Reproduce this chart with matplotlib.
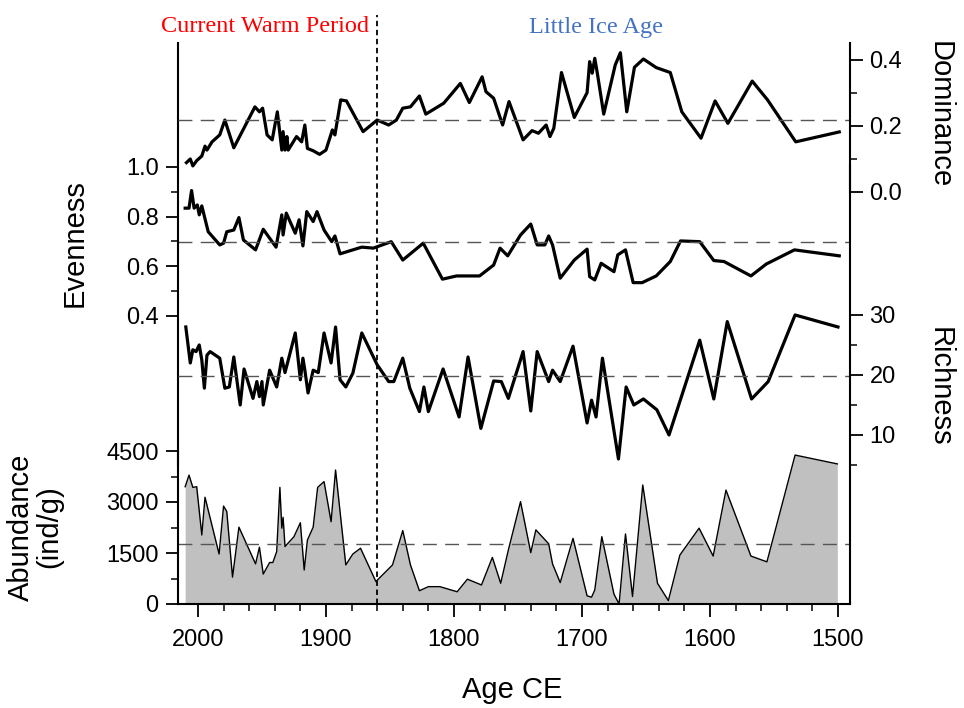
import matplotlib
matplotlib.use('Agg')
import matplotlib.pyplot as plt
from matplotlib.ticker import MultipleLocator, FixedLocator

plt.rcParams['font.family'] = ['Liberation Sans', 'DejaVu Sans']

# dominance (right axis, top)
dom_years = [2009, 2006, 2004, 2001, 1997, 1994.5, 1993, 1989, 1983, 1979,
             1972, 1955.5, 1952, 1949.5, 1946, 1942, 1938, 1934.5, 1933.5, 1932,
             1930.5, 1929.5, 1923, 1919, 1916.5, 1914.5, 1910, 1905, 1900, 1895,
             1893, 1888.5, 1884, 1871, 1860, 1851, 1845, 1840, 1834, 1827,
             1822, 1808, 1795, 1788, 1778, 1775, 1769, 1762, 1757, 1746,
             1739, 1734, 1728, 1725, 1722, 1716, 1706, 1696, 1694, 1692,
             1690, 1688, 1683, 1674, 1670, 1665, 1659, 1652, 1642, 1631,
             1622, 1607, 1596, 1586, 1567, 1555, 1533, 1499]
dom_vals = [0.089, 0.100, 0.079, 0.095, 0.109, 0.139, 0.127, 0.152, 0.173, 0.218,
            0.134, 0.258, 0.243, 0.254, 0.173, 0.158, 0.243, 0.127, 0.183, 0.127,
            0.168, 0.127, 0.168, 0.152, 0.203, 0.132, 0.125, 0.114, 0.127, 0.188,
            0.173, 0.279, 0.276, 0.183, 0.218, 0.203, 0.218, 0.254, 0.258, 0.291,
            0.236, 0.269, 0.329, 0.271, 0.349, 0.304, 0.284, 0.203, 0.274, 0.158,
            0.186, 0.178, 0.203, 0.168, 0.193, 0.362, 0.226, 0.301, 0.395, 0.360,
            0.405, 0.360, 0.236, 0.385, 0.422, 0.243, 0.378, 0.403, 0.377, 0.362,
            0.243, 0.163, 0.276, 0.208, 0.336, 0.279, 0.152, 0.182]

# evenness (left axis)
ev_years = [2010, 2007, 2005, 2003, 2000.5, 1999, 1997, 1992, 1983, 1980,
            1977.5, 1972, 1968, 1964.5, 1955, 1949, 1939, 1934.5, 1933.5, 1931,
            1924, 1921, 1918, 1915, 1910, 1907, 1901.5, 1895.5, 1893, 1889,
            1879, 1872, 1863, 1849, 1840, 1824, 1809, 1798, 1780, 1769,
            1764, 1758, 1748, 1740, 1735, 1729, 1726, 1723, 1717, 1706,
            1696, 1694, 1690, 1685, 1675, 1672, 1666, 1660, 1653, 1642,
            1631, 1623, 1608, 1597, 1589, 1568, 1556, 1534, 1499]
ev_vals = [0.834, 0.834, 0.905, 0.834, 0.847, 0.807, 0.843, 0.739, 0.686, 0.693,
           0.739, 0.746, 0.796, 0.706, 0.666, 0.749, 0.677, 0.807, 0.726, 0.814,
           0.733, 0.787, 0.682, 0.820, 0.780, 0.820, 0.746, 0.699, 0.722, 0.650,
           0.666, 0.677, 0.673, 0.699, 0.625, 0.693, 0.548, 0.561, 0.561, 0.605,
           0.673, 0.642, 0.726, 0.770, 0.686, 0.686, 0.722, 0.686, 0.552, 0.625,
           0.669, 0.558, 0.545, 0.612, 0.578, 0.646, 0.666, 0.534, 0.534, 0.561,
           0.619, 0.702, 0.699, 0.623, 0.619, 0.561, 0.609, 0.666, 0.642]

# richness (right axis)
rich_years = [2009.5, 2006, 2004, 2001.5, 1999, 1997, 1995, 1993, 1990.5, 1983,
              1979, 1975.5, 1972, 1967, 1964, 1957, 1954, 1952, 1950, 1949,
              1944, 1938.5, 1934.5, 1932, 1924, 1920, 1918, 1916.5, 1914, 1910,
              1906, 1901.5, 1896, 1892.5, 1889, 1884.5, 1879, 1872, 1860, 1851,
              1847, 1840, 1834.5, 1827, 1823.5, 1820, 1808.5, 1796, 1789, 1779,
              1769, 1763, 1757.5, 1746, 1740, 1735, 1726, 1723, 1717, 1707,
              1696, 1692.5, 1689, 1684, 1671.5, 1665.5, 1659.5, 1652, 1641.5, 1632,
              1608, 1597, 1586.5, 1567.5, 1554.5, 1533.5, 1500]
rich_vals = [28.0, 22.0, 24.2, 23.9, 25.0, 22.5, 17.8, 23.3, 23.9, 22.8,
             17.8, 18.0, 23.0, 15.0, 21.0, 16.1, 18.9, 16.4, 18.9, 15.0,
             20.8, 18.0, 22.8, 20.4, 27.0, 19.2, 22.8, 20.8, 17.0, 20.8,
             20.4, 27.0, 22.0, 28.0, 19.2, 18.0, 20.3, 27.0, 21.7, 18.9,
             18.9, 22.8, 17.8, 13.9, 18.0, 13.9, 21.0, 13.0, 23.0, 11.1,
             19.0, 18.9, 16.1, 23.9, 14.0, 23.9, 18.9, 20.8, 18.9, 24.8,
             12.0, 15.8, 13.0, 22.8, 6.0, 18.0, 15.0, 16.0, 14.2, 10.0,
             25.8, 16.0, 28.9, 16.0, 18.9, 30.0, 28.0]

# abundance (left axis, bottom)
ab_years = [2010, 2007, 2004, 2001, 1997, 1994.5, 1983.5, 1980, 1977.5, 1973,
            1968, 1955, 1952, 1949, 1944, 1941.5, 1938.5, 1936, 1934.5, 1933.5,
            1932, 1925, 1920, 1917, 1914.5, 1910, 1906.5, 1901.5, 1896, 1892.5,
            1884.5, 1879, 1873, 1861, 1848, 1840, 1834, 1827, 1820, 1811,
            1797.5, 1789.5, 1778.5, 1770, 1763.5, 1757.5, 1748, 1740, 1736, 1726,
            1723, 1717, 1707, 1696, 1692.5, 1690, 1684.5, 1675, 1671, 1666,
            1660.5, 1652.5, 1641, 1632.5, 1623.5, 1608.5, 1597.5, 1587.5, 1568, 1555.5,
            1533.5, 1500.5]
ab_vals = [3450, 3790, 3430, 3450, 2030, 3140, 1470, 2880, 2720, 790,
           2260, 1180, 1670, 880, 1220, 1220, 1540, 3430, 2230, 2550,
           1690, 1980, 2390, 1000, 1880, 2260, 3430, 3600, 2420, 3940,
           1150, 1470, 1640, 660, 1150, 2160, 1150, 390, 510, 510,
           360, 730, 560, 1370, 610, 1590, 3010, 1510, 2180, 1770,
           1180, 630, 1930, 240, 200, 410, 1980, 290, 0, 2060,
           220, 3500, 610, 100, 1440, 2230, 1410, 3350, 1410, 1240,
           4380, 4120]

# mean levels (dashed lines)
dom_mean = 0.218
ev_mean = 0.698
rich_mean = 19.8
ab_mean = 1765

boundary_year = 1860

W, H = 964, 708
fig = plt.figure(figsize=(W / 100, H / 100), dpi=100)
ax = fig.add_axes([178 / W, 1 - 604 / H, 672 / W, 561 / H])
ax_ev = ax.twinx()
ax_dom = ax.twinx()
ax_rich = ax.twinx()

ax.set_xlim(2015.6, 1490.6)
ax.set_ylim(0, 16500)
ax_ev.set_ylim(-0.760, 1.499)
ax_dom.set_ylim(-1.2485, 0.4515)
ax_rich.set_ylim(-18.17, 75.33)

dash_kw = dict(color='#555555', lw=1.0, dashes=(10, 6))
tick_kw = dict(direction='out', width=1.3, labelsize=17)

# abundance
ax.fill_between(ab_years, 0, ab_vals, color='#c0c0c0', lw=0)
ax.plot(ab_years, ab_vals, color='black', lw=1.0)
ax.axhline(ab_mean, **dash_kw)
ax.axvline(boundary_year, ymin=0, ymax=1.05, color='black', lw=1.3,
           dashes=(3, 2), clip_on=False)

# evenness / dominance / richness
ax_ev.plot(ev_years, ev_vals, color='black', lw=2.3)
ax_ev.axhline(ev_mean, **dash_kw)
ax_dom.plot(dom_years, dom_vals, color='black', lw=2.3)
ax_dom.axhline(dom_mean, **dash_kw)
ax_rich.plot(rich_years, rich_vals, color='black', lw=2.3)
ax_rich.axhline(rich_mean, **dash_kw)

# spines
for a in (ax, ax_ev, ax_dom, ax_rich):
    for s in a.spines.values():
        s.set_visible(False)
        s.set_linewidth(1.5)
ax.spines['bottom'].set_visible(True)
ax.spines['left'].set_visible(True)
ax.spines['left'].set_bounds(0, 4500)
ax_ev.spines['left'].set_visible(True)
ax_ev.spines['left'].set_bounds(-0.2, 1.499)
ax_dom.spines['right'].set_visible(True)
ax_dom.spines['right'].set_bounds(0, 0.4515)
ax_rich.spines['right'].set_visible(True)
ax_rich.spines['right'].set_bounds(-18.17, 55)

# ticks
ax.xaxis.set_major_locator(MultipleLocator(100))
ax.xaxis.set_minor_locator(MultipleLocator(20))
ax.tick_params(axis='x', which='major', length=9, pad=9, **tick_kw)
ax.tick_params(axis='x', which='minor', length=5, width=1.1)

ax.yaxis.set_major_locator(FixedLocator([0, 1500, 3000, 4500]))
ax.yaxis.set_minor_locator(FixedLocator([750, 2250, 3750]))
ax.tick_params(axis='y', which='major', length=9, pad=5, **tick_kw)
ax.tick_params(axis='y', which='minor', length=5, width=1.1)

ax_ev.yaxis.tick_left()
ax_ev.yaxis.set_major_locator(FixedLocator([0.4, 0.6, 0.8, 1.0]))
ax_ev.yaxis.set_minor_locator(FixedLocator([0.5, 0.7, 0.9]))
ax_ev.set_yticklabels(['0.4', '0.6', '0.8', '1.0'])
ax_ev.tick_params(axis='y', which='major', length=9, pad=5, **tick_kw)
ax_ev.tick_params(axis='y', which='minor', length=5, width=1.1)

ax_dom.yaxis.set_major_locator(FixedLocator([0.0, 0.2, 0.4]))
ax_dom.yaxis.set_minor_locator(FixedLocator([0.1, 0.3]))
ax_dom.set_yticklabels(['0.0', '0.2', '0.4'])
ax_dom.tick_params(axis='y', which='major', length=9, pad=5, **tick_kw)
ax_dom.tick_params(axis='y', which='minor', length=5, width=1.1)

ax_rich.yaxis.set_major_locator(FixedLocator([10, 20, 30]))
ax_rich.yaxis.set_minor_locator(FixedLocator([5, 15, 25]))
ax_rich.tick_params(axis='y', which='major', length=9, pad=5, **tick_kw)
ax_rich.tick_params(axis='y', which='minor', length=5, width=1.1)

# labels
fig.text(75 / W, 1 - 243 / H, 'Evenness', rotation=90, ha='center', va='center', fontsize=21)
fig.text(35 / W, 1 - 527 / H, 'Abundance\n(ind/g)', rotation=90, ha='center', va='center',
         fontsize=21, linespacing=1.0)
fig.text(940 / W, 1 - 115 / H, 'Dominance', rotation=-90, ha='center', va='center', fontsize=21)
fig.text(940 / W, 1 - 387 / H, 'Richness', rotation=-90, ha='center', va='center', fontsize=21)
fig.text(512 / W, 1 - 690 / H, 'Age CE', ha='center', va='center', fontsize=21)
fig.text(265 / W, 1 - 27 / H, 'Current Warm Period', ha='center', va='center',
         fontsize=17.5, color='#ff0000', family='Liberation Serif')
fig.text(596 / W, 1 - 27 / H, 'Little Ice Age', ha='center', va='center',
         fontsize=17.5, color='#4472c4', family='Liberation Serif')

fig.savefig('out.png', dpi=100)
